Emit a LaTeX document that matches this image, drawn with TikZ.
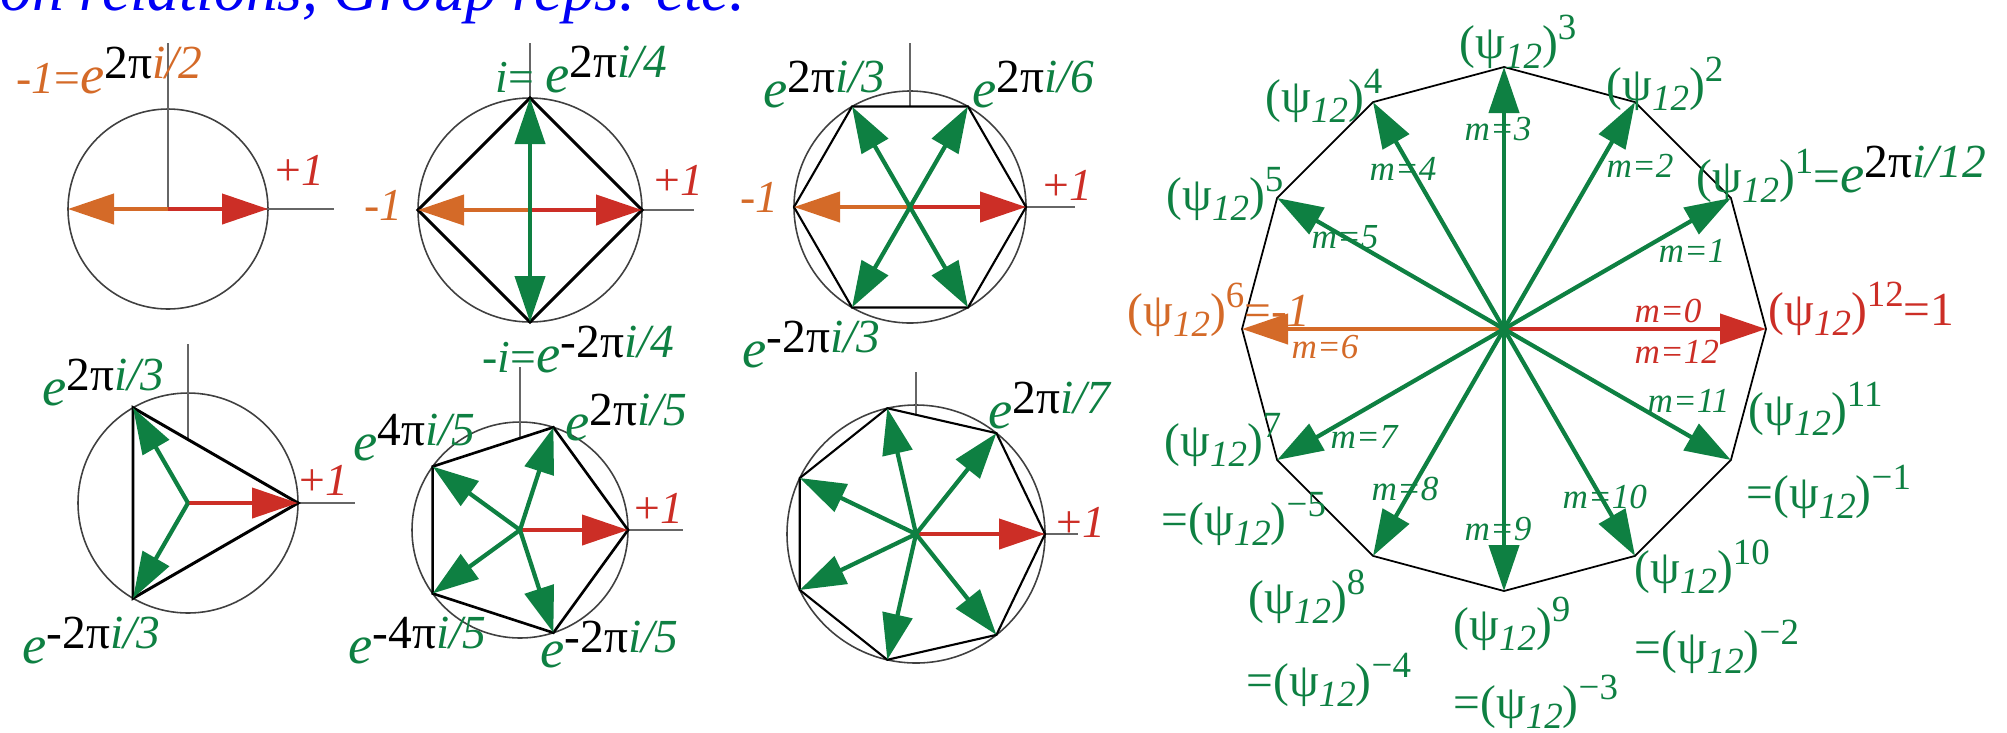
\documentclass[tikz,border=0pt]{standalone}
\usepackage{fontspec}
\setmainfont{Liberation Serif}
\usetikzlibrary{arrows.meta,positioning,calc}
\definecolor{grn}{RGB}{14,128,66}
\definecolor{rd}{RGB}{204,46,38}
\definecolor{org}{RGB}{212,106,40}
\definecolor{ttl}{RGB}{0,0,245}
\newcommand{\lbl}{\fontsize{13}{15}\selectfont}
\newcommand{\wsz}{\fontsize{13.5}{15}\selectfont}
\newcommand{\msz}{\fontsize{10}{11}\selectfont\itshape}
\newcommand{\ep}[2]{{\fontsize{15.5}{17}\selectfont\itshape e}\colorlet{ecol}{.}%
  \raisebox{.15cm}{\fontsize{13.5}{15}\selectfont\color{black}#1\color{ecol}\itshape #2}}
\newcommand{\pw}[1]{(ψ\raisebox{-.1cm}{\fontsize{10.5}{12}\selectfont\itshape 12})%
  \raisebox{.19cm}{\fontsize{10.5}{12}\selectfont #1}}

\begin{document}
\begin{tikzpicture}[
ax/.style={gray!80!black,line width=.35pt},
rim/.style={black!75,line width=.45pt},
poly/.style={black,line width=.85pt},
arr/.style={-{Triangle[length=4.6mm,width=3mm]},line width=1.2pt},
lab/.style={font=\lbl,inner sep=0pt,anchor=base west},
wlab/.style={font=\wsz,inner sep=0pt,anchor=base west},
mlab/.style={font=\msz,inner sep=0pt,anchor=base west,text=grn}]
\useasboundingbox (0,0) rectangle (20.07,7.32);
\clip (0,0) rectangle (20.07,7.32);
\node[lab,font=\fontsize{18}{20}\selectfont\itshape,text=ttl] (title) at (0,7.22) {on relations, Group reps. etc.};

\coordinate (c2) at (1.68,5.23);
\coordinate (c4) at (5.30,5.22);
\coordinate (c6) at (9.10,5.25);
\coordinate (c3) at (1.88,2.29);
\coordinate (c5) at (5.20,2.02);
\coordinate (c7) at (9.16,1.98);
\coordinate (c12) at (15.04,4.03);
\foreach \k in {0,1} \coordinate (c2-\k) at ($(c2)+({180*\k}:1)$);
\foreach \k in {0,...,3} \coordinate (c4-\k) at ($(c4)+({90*\k}:1.12)$);
\foreach \k in {0,...,5} \coordinate (c6-\k) at ($(c6)+({60*\k}:1.16)$);
\foreach \k in {0,1,2} \coordinate (c3-\k) at ($(c3)+({120*\k}:1.10)$);
\foreach \k in {0,...,4} \coordinate (c5-\k) at ($(c5)+({72*\k}:1.08)$);
\foreach \k in {0,...,6} \coordinate (c7-\k) at ($(c7)+({360/7*\k}:1.29)$);
\foreach \k in {0,...,11} \coordinate (c12-\k) at ($(c12)+({30*\k}:2.62)$);

\draw[rim] (c2) circle (1);
\draw[rim] (c4) circle (1.12);
\draw[rim] (c6) circle (1.16);
\draw[rim] (c3) circle (1.10);
\draw[rim] (c5) circle (1.08);
\draw[rim] (c7) circle (1.29);

\draw[ax] (c2) -- ++(0,1.66);
\draw[ax] (c2) -- ++(1.66,0);
\draw[ax] (c4) -- ++(0,1.67);
\draw[ax] (c4) -- ++(1.64,0);
\draw[ax] ($(c6-1)!.5!(c6-2)$) -- ++(0,.64);
\draw[ax] (c6) -- ++(1.65,0);
\draw[ax] ($(c3-1)!1/3!(c3-0)$) -- ++(0,.96);
\draw[ax] (c3) -- ++(1.67,0);
\draw[ax] ($(c5-1)!.276!(c5-2)$) -- ++(0,.71);
\draw[ax] (c5) -- ++(1.63,0);
\draw[ax] ($(c7-1)!.737!(c7-2)$) -- ++(0,.43);
\draw[ax] (c7) -- ++(1.62,0);

\draw[poly] (c4-0) -- (c4-1) -- (c4-2) -- (c4-3) -- cycle;
\draw[poly,line width=.6pt] (c6-0) \foreach \k in {1,...,5}{ -- (c6-\k)} -- cycle;
\draw[poly] (c3-0) -- (c3-1) -- (c3-2) -- cycle;
\draw[poly,line width=.75pt] (c5-0) \foreach \k in {1,...,4}{ -- (c5-\k)} -- cycle;
\draw[poly,line width=.6pt] (c7-0) \foreach \k in {1,...,6}{ -- (c7-\k)} -- cycle;
\draw[poly,line width=.5pt] (c12-0) \foreach \k in {1,...,11}{ -- (c12-\k)} -- cycle;

\draw[arr,rd] (c2) -- (c2-0);
\draw[arr,org] (c2) -- (c2-1);
\draw[arr,rd] (c4) -- (c4-0);
\draw[arr,org] (c4) -- (c4-2);
\foreach \k in {1,3} \draw[arr,grn] (c4) -- (c4-\k);
\draw[arr,rd] (c6) -- (c6-0);
\draw[arr,org] (c6) -- (c6-3);
\foreach \k in {1,2,4,5} \draw[arr,grn] (c6) -- (c6-\k);
\draw[arr,rd] (c3) -- (c3-0);
\foreach \k in {1,2} \draw[arr,grn] (c3) -- (c3-\k);
\draw[arr,rd] (c5) -- (c5-0);
\foreach \k in {1,...,4} \draw[arr,grn] (c5) -- (c5-\k);
\draw[arr,rd] (c7) -- (c7-0);
\foreach \k in {1,...,6} \draw[arr,grn] (c7) -- (c7-\k);
\draw[arr,rd] (c12) -- (c12-0);
\draw[arr,org] (c12) -- (c12-6);
\foreach \k in {1,...,5,7,8,9,10,11} \draw[arr,grn] (c12) -- (c12-\k);

\node[lab,text=org] (n2top) at (0.16,6.39) {\textit{-1}=\ep{2π}{i/2}};
\node[lab,text=rd] (n2one) at (2.75,5.47) {+\textit{1}};
\node[lab,text=grn] (n4top) at (4.95,6.40) {\textit{i}= \ep{2π}{i/4}};
\node[lab,text=org] (n4neg) at (3.64,5.12) {\textit{-1}};
\node[lab,text=rd] (n4one) at (6.54,5.37) {+\textit{1}};
\node[lab,text=grn] (n4bot) at (4.82,3.60) {\textit{-i}=\ep{-2π}{i/4}};
\node[lab,text=grn] (n6a) at (7.63,6.25) {\ep{2π}{i/3}};
\node[lab,text=grn] (n6b) at (9.72,6.25) {\ep{2π}{i/6}};
\node[lab,text=org] (n6neg) at (7.40,5.20) {\textit{-1}};
\node[lab,text=rd] (n6one) at (10.43,5.32) {+\textit{1}};
\node[lab,text=grn] (n6c) at (7.42,3.65) {\ep{-2π}{i/3}};
\node[lab,text=grn] (n3a) at (0.42,3.27) {\ep{2π}{i/3}};
\node[lab,text=rd] (n3one) at (2.99,2.37) {+\textit{1}};
\node[lab,text=grn] (n3b) at (0.22,0.69) {\ep{-2π}{i/3}};
\node[lab,text=grn] (n5a) at (5.65,2.92) {\ep{2π}{i/5}};
\node[lab,text=grn] (n5b) at (3.53,2.72) {\ep{4π}{i/5}};
\node[lab,text=rd] (n5one) at (6.34,2.09) {+\textit{1}};
\node[lab,text=grn] (n5c) at (3.48,0.69) {\ep{-4π}{i/5}};
\node[lab,text=grn] (n5d) at (5.40,0.65) {\ep{-2π}{i/5}};
\node[lab,text=grn] (n7a) at (9.88,3.04) {\ep{2π}{i/7}};
\node[lab,text=rd] (n7one) at (10.56,1.95) {+\textit{1}};

\node[wlab,text=grn] (w3) at (14.59,6.74) {\pw{3}};
\node[wlab,text=grn] (w2) at (16.06,6.32) {\pw{2}};
\node[wlab,text=grn] (w4) at (12.65,6.20) {\pw{4}};
\node[wlab,text=grn] (w5) at (11.66,5.22) {\pw{5}};
\node[wlab,text=grn] (w1) at (16.96,5.40) {\pw{1}=\ep{2π}{i/12}};
\node[wlab,text=rd] (w12) at (17.68,4.07) {\pw{12}=1};
\node[wlab,text=org] (w6) at (11.27,4.06) {\pw{6}=\textit{-1}};
\node[wlab,text=grn] (w7) at (11.64,2.76) {\pw{7}};
\node[wlab,text=grn] (w7b) at (11.61,1.97) {=\pw{−5}};
\node[wlab,text=grn] (w8) at (12.48,1.19) {\pw{8}};
\node[wlab,text=grn] (w8b) at (12.46,0.36) {=\pw{−4}};
\node[wlab,text=grn] (w9) at (14.53,0.92) {\pw{9}};
\node[wlab,text=grn] (w9b) at (14.53,0.14) {=\pw{−3}};
\node[wlab,text=grn] (w10) at (16.34,1.49) {\pw{10}};
\node[wlab,text=grn] (w10b) at (16.34,0.69) {=\pw{−2}};
\node[wlab,text=grn] (w11) at (17.48,3.07) {\pw{11}};
\node[wlab,text=grn] (w11b) at (17.46,2.24) {=\pw{−1}};

\node[mlab,text=rd] (m0) at (16.34,4.10) {m=0};
\node[mlab,text=rd] (m12) at (16.34,3.69) {m=12};
\node[mlab] (m1) at (16.58,4.70) {m=1};
\node[mlab] (m2) at (16.06,5.55) {m=2};
\node[mlab] (m3) at (14.64,5.92) {m=3};
\node[mlab] (m4) at (13.69,5.52) {m=4};
\node[mlab] (m5) at (13.11,4.84) {m=5};
\node[mlab,text=org] (m6) at (12.91,3.74) {m=6};
\node[mlab] (m7) at (13.30,2.84) {m=7};
\node[mlab] (m8) at (13.71,2.32) {m=8};
\node[mlab] (m9) at (14.64,1.92) {m=9};
\node[mlab] (m10) at (15.62,2.24) {m=10};
\node[mlab] (m11) at (16.47,3.20) {m=11};
\end{tikzpicture}
\end{document}
